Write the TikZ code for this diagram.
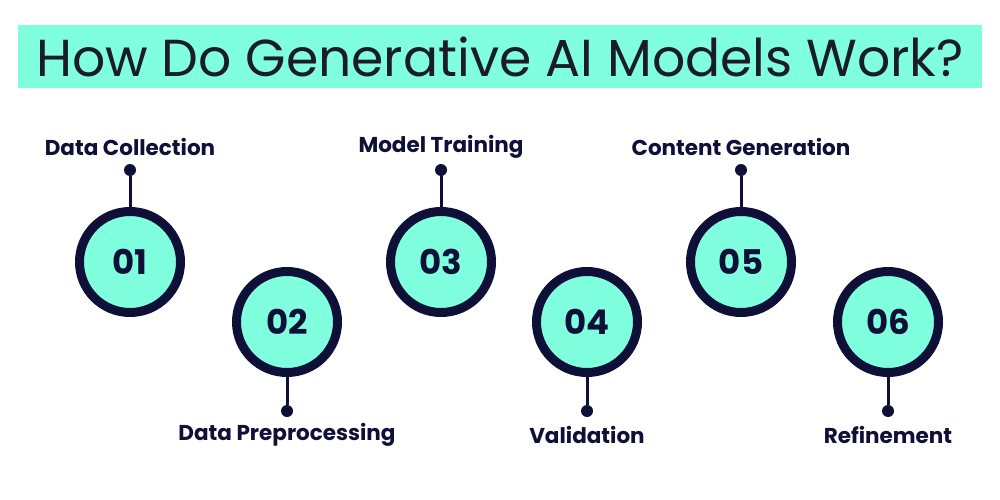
\documentclass[tikz,border=0pt]{standalone}
\usepackage{fontspec}
\setmainfont{Poppins}
\definecolor{navy}{HTML}{0E1038}
\definecolor{aqua}{HTML}{80FFDF}
\definecolor{ink}{HTML}{1A1C2A}
\begin{document}
\begin{tikzpicture}[x=1pt,y=-1pt,
  ring/.style={circle,draw=navy,line width=9pt,fill=aqua,minimum size=101pt,inner sep=0pt,font=\fontsize{34}{34}\selectfont\bfseries,text=navy},
  lbl/.style={font=\fontsize{21.5}{21.5}\selectfont\bfseries,text=navy},
  dot/.style={circle,fill=navy,minimum size=12pt,inner sep=0pt},
  stem/.style={draw=navy,line width=3pt}]
\useasboundingbox (0,0) rectangle (1000,500);
\fill[white] (0,0) rectangle (1000,500);
\fill[aqua] (18,25) rectangle (982,88);
\node[text=ink,font=\fontsize{52}{52}\selectfont] (title) at (500,57) {How Do Generative AI Models Work?};
\foreach \n/\x/\y/\t/\up in {01/130/262/Data Collection/1,02/287/322/Data Preprocessing/0,03/441/262/Model Training/1,04/587/322/Validation/0,05/741/262/Content Generation/1,06/888/322/Refinement/0}{
  \node[ring] (c\n) at (\x,\y) {\n};
  \ifnum\up=1
    \node[dot] (d\n) at (\x,170) {};
    \node[lbl] (l\n) at (\x,147) {\t};
  \else
    \node[dot] (d\n) at (\x,411) {};
    \node[lbl] (l\n) at (\x,435) {\t};
  \fi
  \draw[stem] (c\n) -- (d\n);
}
\end{tikzpicture}
\end{document}
